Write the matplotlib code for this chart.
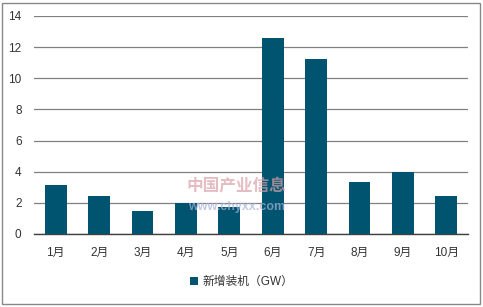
import matplotlib
matplotlib.use("Agg")
import matplotlib.pyplot as plt
from matplotlib.patches import Rectangle

plt.rcParams['font.family'] = ['Liberation Sans', 'Noto Sans CJK SC', 'DejaVu Sans']

# data
months = ["1月", "2月", "3月", "4月", "5月", "6月", "7月", "8月", "9月", "10月"]
new_gw = [3.15, 2.45, 1.48, 2.01, 1.72, 12.6, 11.25, 3.35, 3.97, 2.45]
yticks = [0, 2, 4, 6, 8, 10, 12, 14]
bar_color = "#005470"

fig = plt.figure(figsize=(4.83, 3.07), dpi=100)
ax = fig.add_axes([34/483, 1-234/307, 434/483, 218/307])

x = range(len(months))
ax.bar(x, new_gw, width=0.5, color=bar_color, zorder=3, label="新增装机（GW）")

ax.set_xlim(-0.5, len(months) - 0.5)
ax.set_ylim(0, 14)
ax.set_yticks(yticks)
ax.set_xticks(list(x))
ax.set_xticklabels(months)
ax.grid(axis="y", color="#808080", linewidth=0.9, zorder=0)
ax.tick_params(length=0, labelsize=8.5, colors="#333333")
ax.tick_params(axis="x", pad=9)
ax.tick_params(axis="y", pad=9)
for s in ["top", "right", "left"]:
    ax.spines[s].set_visible(False)
ax.spines["bottom"].set_color("#404040")
ax.spines["bottom"].set_linewidth(1.0)

# watermark
fig.text(0.49, 0.395, "中国产业信息", fontsize=12, fontweight="bold",
         color="#d9a0a8", alpha=0.7, ha="center", va="center", zorder=5)
fig.text(0.49, 0.325, "www.chyxx.com", fontsize=9, fontweight="bold",
         color="#a8b4d8", alpha=0.7, ha="center", va="center", zorder=5)

leg = fig.legend(loc="center", bbox_to_anchor=(0.5, 1-282/307), frameon=False,
                 fontsize=8.5, handlelength=0.7, handleheight=0.7, handletextpad=0.4)
for t in leg.get_texts():
    t.set_color("#333333")

# outer frame
fig.patches.append(Rectangle((2/483, 3/307), 478/483, 301/307, transform=fig.transFigure,
                             fill=False, edgecolor="#888888", linewidth=1.0))

fig.savefig("out.png", dpi=100)
